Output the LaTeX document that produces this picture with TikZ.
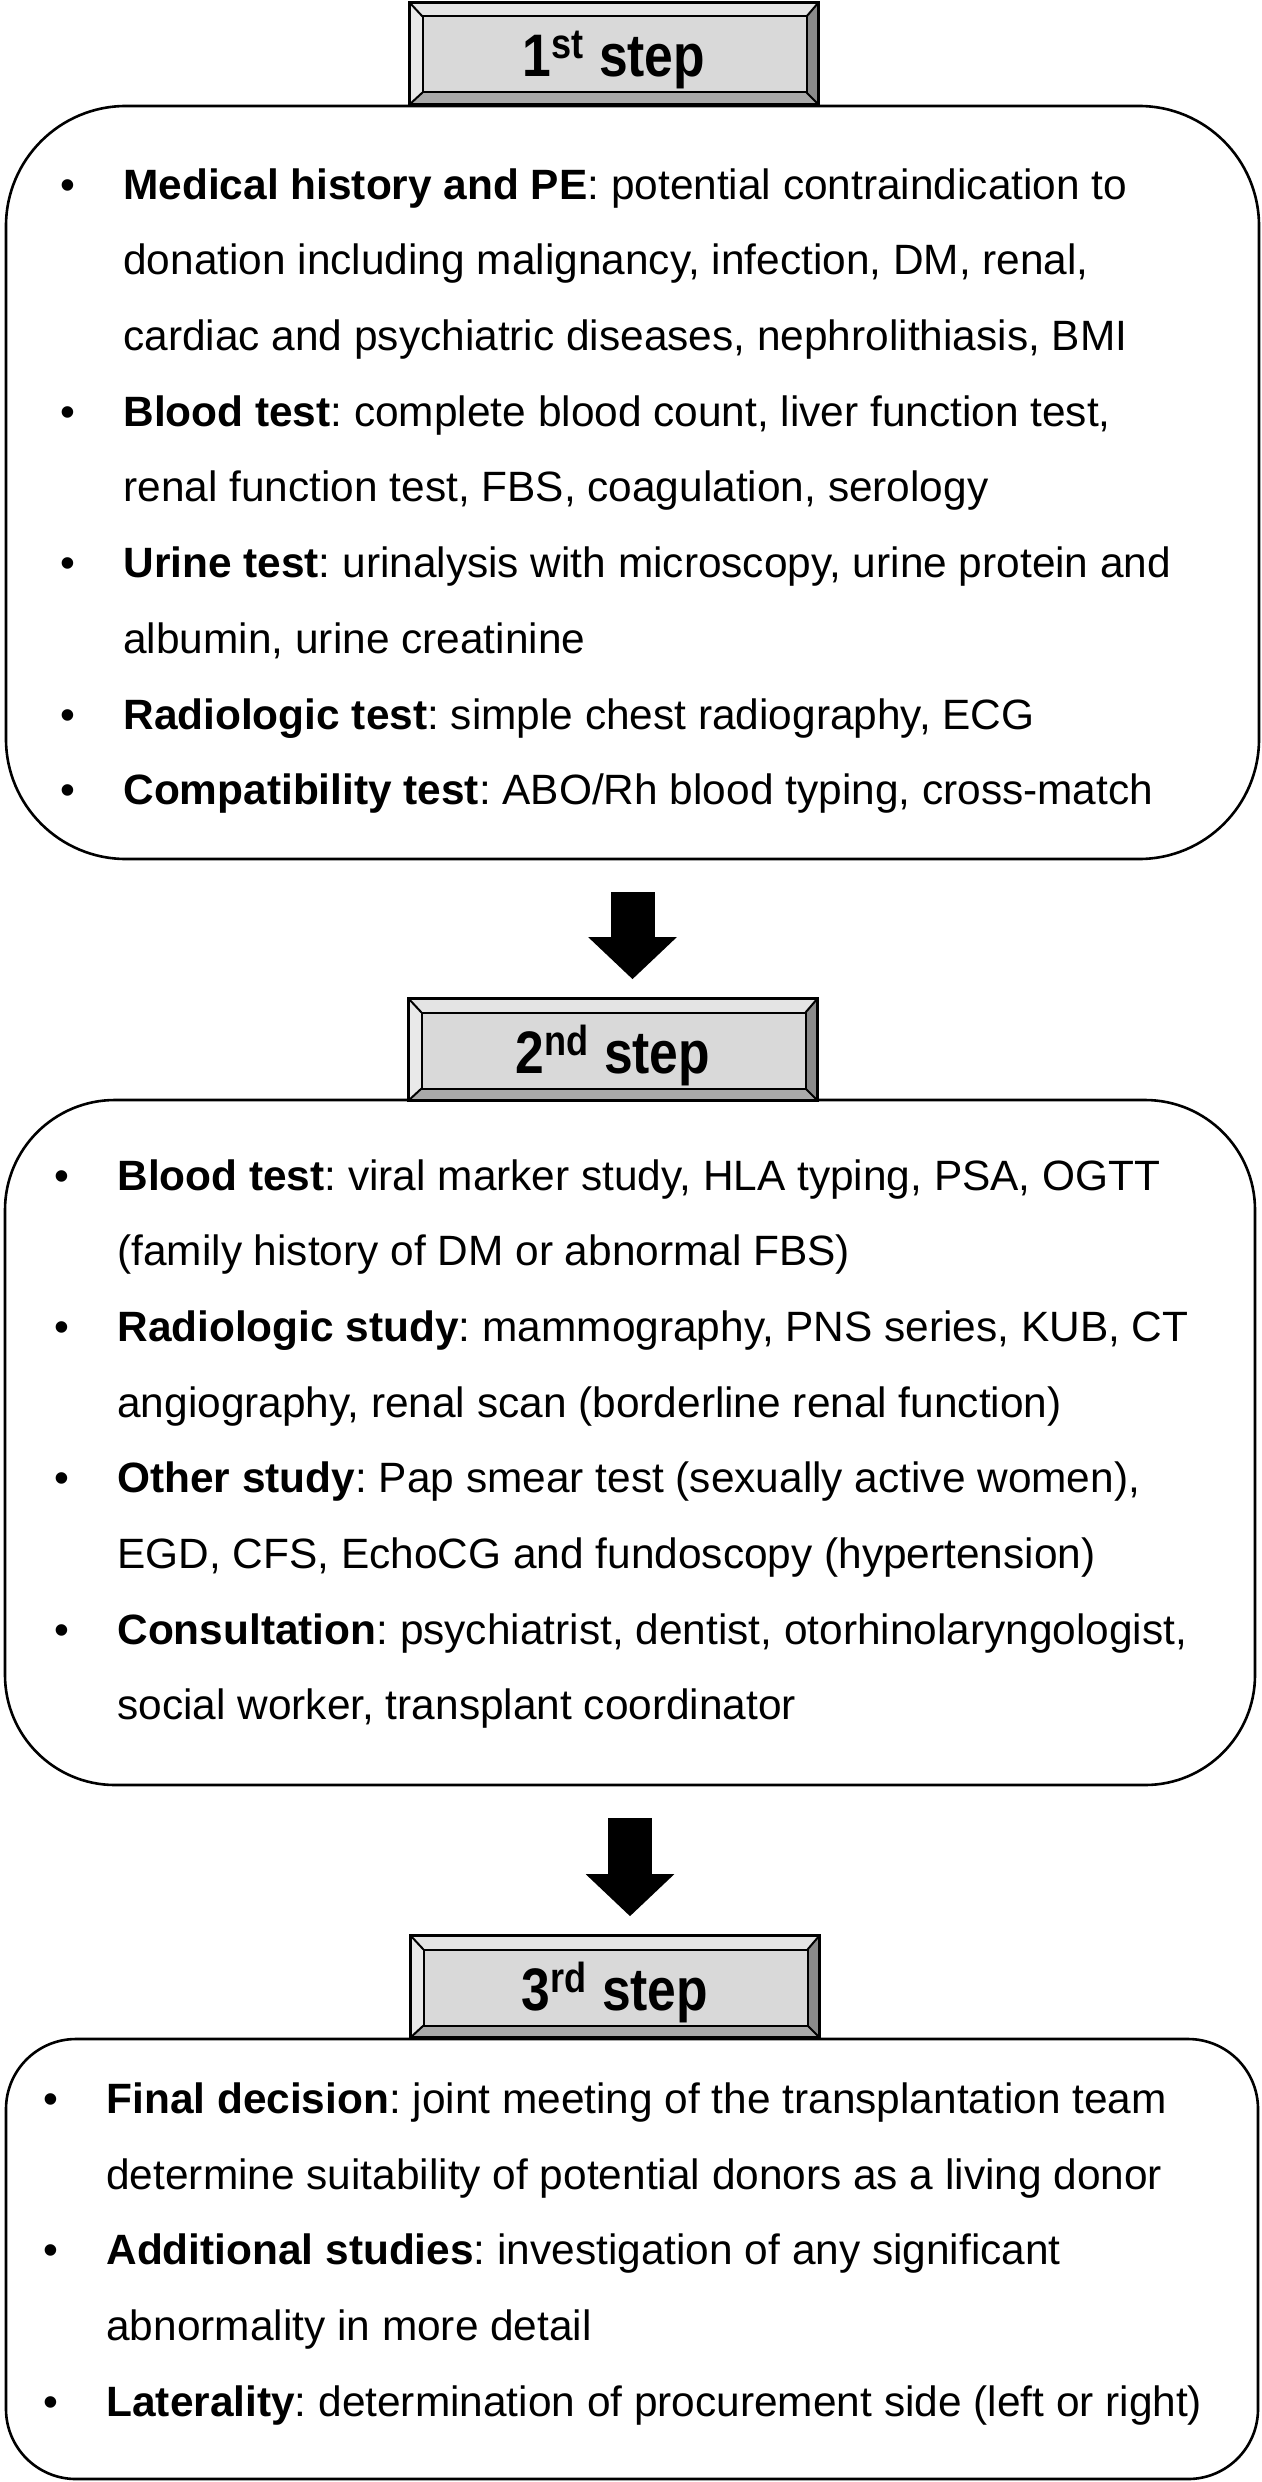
\documentclass[tikz,border=0pt]{standalone}
\usepackage{fontspec}
\setmainfont{Liberation Sans}
\newfontfamily\headfont[FakeStretch=0.86]{Liberation Sans}
\usetikzlibrary{arrows.meta}

\definecolor{facegray}{HTML}{D9D9D9}
\definecolor{topgray}{HTML}{E4E4E4}
\definecolor{leftgray}{HTML}{E9E9E9}
\definecolor{rightgray}{HTML}{8A8A8A}
\definecolor{bottomgray}{HTML}{A9A9A9}

\newcommand{\bul}{\llap{\textbullet\hspace{24pt}}}
\frenchspacing

\begin{document}
\begin{tikzpicture}[x=0.5pt,y=-0.5pt]

    \tikzset{
      stephead/.style={
        draw=black,
        line width=1.3pt,
        fill=facegray,
        minimum width=204.5pt,
        minimum height=51pt,
        inner sep=0pt,
        text depth=0pt,
        font=\headfont\bfseries\fontsize{30}{30}\selectfont,
        path picture={
          \coordinate (nw) at (path picture bounding box.north west);
          \coordinate (ne) at (path picture bounding box.north east);
          \coordinate (sw) at (path picture bounding box.south west);
          \coordinate (se) at (path picture bounding box.south east);
          \coordinate (inw) at ([xshift=6.5pt,yshift=-7pt]nw);
          \coordinate (ine) at ([xshift=-6pt,yshift=-7pt]ne);
          \coordinate (isw) at ([xshift=6.5pt,yshift=6pt]sw);
          \coordinate (ise) at ([xshift=-6pt,yshift=6pt]se);
          \fill[topgray] (nw)--(ne)--(ine)--(inw)--cycle;
          \fill[leftgray] (nw)--(sw)--(isw)--(inw)--cycle;
          \fill[rightgray] (ne)--(se)--(ise)--(ine)--cycle;
          \fill[bottomgray] (sw)--(se)--(ise)--(isw)--cycle;
          \draw[line width=1pt] (inw) rectangle (ise);
          \draw[line width=1pt] (nw)--(inw) (ne)--(ine) (sw)--(isw) (se)--(ise);
        },
      },
      stepbox/.style={
        draw=black,
        line width=1.3pt,
        fill=white,
        inner sep=0pt,
      },
      itemlist/.style={
        anchor=west,
        align=left,
        inner sep=0pt,
        font=\fontsize{21.2}{37.85}\selectfont,
      },
      blockarrow/.style={
        line width=22pt,
        -{Triangle[length=21pt,width=43pt]},
        shorten <=16pt,
        shorten >=9pt,
      },
    }
    \useasboundingbox (0,0) rectangle (1262,2482);

    % rounded frames
    \node[stepbox, minimum width=626.5pt, minimum height=376.5pt, rounded corners=60pt] (box1) at (632.5,482.5) {};
    \node[stepbox, minimum width=625pt, minimum height=342.5pt, rounded corners=55pt] (box2) at (630,1442.5) {};
    \node[stepbox, minimum width=626pt, minimum height=220pt, rounded corners=35pt] (box3) at (632,2259) {};

    % item lists
    \node[itemlist] (list1) at (123,491) {\bul\textbf{Medical history and PE}: potential contraindication to\\
donation including malignancy, infection, DM, renal,\\
cardiac and psychiatric diseases, nephrolithiasis, BMI\\
\bul\textbf{Blood test}: complete blood count, liver function test,\\
renal function test, FBS, coagulation, serology\\
\bul\textbf{Urine test}: urinalysis with microscopy, urine protein and\\
albumin, urine creatinine\\
\bul\textbf{Radiologic test}: simple chest radiography, ECG\\
\bul\textbf{Compatibility test}: ABO/Rh blood typing, cross-match};

    \node[itemlist] (list2) at (117,1444) {\bul\textbf{Blood test}: viral marker study, HLA typing, PSA, OGTT\\
(family history of DM or abnormal FBS)\\
\bul\textbf{Radiologic study}: mammography, PNS series, KUB, CT\\
angiography, renal scan (borderline renal function)\\
\bul\textbf{Other study}: Pap smear test (sexually active women),\\
EGD, CFS, EchoCG and fundoscopy (hypertension)\\
\bul\textbf{Consultation}: psychiatrist, dentist, otorhinolaryngologist,\\
social worker, transplant coordinator};

    \node[itemlist] (list3) at (106,2254) {\bul\textbf{Final decision}: joint meeting of the transplantation team\\
determine suitability of potential donors as a living donor\\
\bul\textbf{Additional studies}: investigation of any significant\\
abnormality in more detail\\
\bul\textbf{Laterality}: determination of procurement side (left or right)};

    % step titles
    \node[stephead] (head1) at (614,53.5) {1\textsuperscript{st} step};
    \node[stephead] (head2) at (613,1049.5) {2\textsuperscript{nd} step};
    \node[stephead] (head3) at (615,1986.5) {3\textsuperscript{rd} step};

    % arrows between steps
    \draw[blockarrow] (box1.south) -- (box1.south |- head2.north);
    \draw[blockarrow] (box2.south) -- (box2.south |- head3.north);

\end{tikzpicture}
\end{document}
